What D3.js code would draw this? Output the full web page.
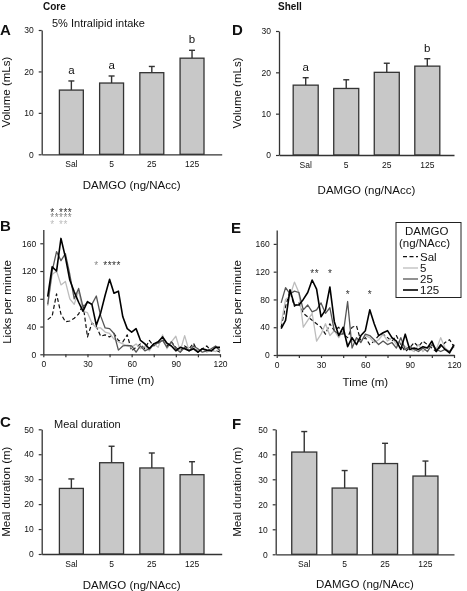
<!DOCTYPE html>
<html><head><meta charset="utf-8">
<script src="https://cdn.jsdelivr.net/npm/d3@7"></script>
<style>
body{margin:0;background:#fff;}
svg{display:block;font-family:"Liberation Sans",Arial,sans-serif;will-change:transform;}
</style></head>
<body>
<svg id="c" width="467" height="591"></svg>
<script>
// ---------- DATA ----------
const doses = ["Sal","5","25","125"];
// Panel A: Core, intake (mL)
const coreVolume = [15.5, 17.2, 19.7, 23.2];
const coreVolumeErr = [2.2, 1.7, 1.5, 1.9];
const coreVolumeSig = ["a","a","","b"];
// Panel D: Shell, intake (mL)
const shellVolume = [16.9, 16.1, 20.0, 21.5];
const shellVolumeErr = [1.8, 2.1, 2.2, 1.8];
const shellVolumeSig = ["a","","","b"];
// Panel C: Core meal duration (m)
const coreDuration = [26.3, 36.6, 34.5, 31.8];
const coreDurationErr = [3.8, 6.6, 6.0, 5.2];
// Panel F: Shell meal duration (m)
const shellDuration = [40.9, 26.5, 36.3, 31.3];
const shellDurationErr = [8.2, 7.0, 8.1, 6.0];

const volumeTicks = [0,10,20,30];
const durationTicks = [0,10,20,30,40,50];
const lickTicks = [0,40,80,120,160];
const timeTicks = [0,15,30,45,60,75,90,105,120];
const timeLabels = [0,30,60,90,120];

const times = [3,6,9,12,15,18,21,24,27,30,33,36,39,42,45,48,51,54,57,60,
               63,66,69,72,75,78,81,84,87,90,93,96,99,102,105,108,111,114,117,120];
// Panel B: Core licks per minute
const coreSal = [50,55,87,58,47,48,52,58,72,25,45,40,26,28,25,30,20,18,28,5,
                 10,15,8,20,12,16,22,12,18,10,5,12,8,16,3,8,12,5,6,3];
const core5   = [70,115,120,100,105,80,72,92,62,60,45,38,38,32,30,22,18,15,12,10,
                 15,8,12,5,15,10,28,8,18,26,5,27,5,10,4,8,3,6,4,8];
const core25  = [72,120,148,135,145,115,80,95,68,75,72,84,55,38,37,30,6,12,13,12,
                 3,12,5,8,15,16,20,10,18,8,3,10,5,12,8,3,5,8,12,5];
const core125 = [83,126,120,167,140,107,90,75,62,76,72,42,60,85,108,88,91,54,37,32,
                 37,20,15,8,15,18,25,16,12,5,10,8,5,8,3,8,6,5,10,10];
// Panel E: Shell licks per minute
const shellSal = [40,70,92,70,75,60,55,50,45,40,30,45,35,40,30,25,40,42,20,25,
                  15,20,28,30,25,20,28,15,5,10,18,12,20,15,10,5,12,18,22,12];
const shell5   = [45,80,85,105,90,40,50,60,20,30,45,28,35,25,35,15,20,22,20,28,
                  25,18,22,30,20,25,15,18,12,8,5,15,5,12,18,8,25,10,5,15];
const shell25  = [75,97,88,92,90,65,72,62,65,75,60,68,35,30,30,77,10,25,18,30,
                  28,22,15,20,15,18,10,25,8,12,8,5,10,5,15,8,5,8,5,12];
const shell125 = [38,50,94,72,72,80,90,108,95,55,65,98,48,28,40,12,25,15,28,35,
                  65,45,28,32,35,25,20,8,30,8,10,8,12,10,20,5,15,8,3,15];

// Significance markers (time points)
const sigCore125Early = [6,12,15,18];
const sigCore25Early = [6,9,12,15,18];
const sigCore5Early = [6,12,15];
const sigCore25Late = [36];
const sigCore125Late = [42,45,48,51];
const sigShellHigh = [24,27,36];
const sigShellLow = [48,63];

const legendLabels = ["Sal","5","25","125"];

// ---------- DRAWING ----------
const svg = d3.select("#c");
const defs = svg.append("defs");
svg.append("rect").attr("width",467).attr("height",591).attr("fill","#fff");
const AX = "#333", TXT = "#111";
const FONT_TICK = 8.5, FONT_TITLE = 11.5;

function text(x,y,s,opt={}){
  const t = svg.append("text").attr("x",x).attr("y",y).text(s)
    .attr("fill",opt.fill||TXT).attr("font-size",opt.size||FONT_TITLE)
    .attr("text-anchor",opt.anchor||"start");
  if(opt.bold) t.attr("font-weight","bold");
  if(opt.rotate) t.attr("transform",`rotate(-90,${x},${y})`);
  return t;
}

function styleAxis(g){
  g.selectAll("path").attr("stroke",AX).attr("stroke-width",1.3);
  g.selectAll("line").attr("stroke",AX).attr("stroke-width",1.2);
  g.selectAll("text").attr("fill",TXT).attr("font-size",FONT_TICK)
    .attr("font-family","Liberation Sans, Arial, sans-serif");
}

function barPanel(cfg){
  const x = d3.scaleBand().domain(doses).range([cfg.x0,cfg.x1])
    .paddingInner(cfg.pi).paddingOuter(cfg.po);
  const y = d3.scaleLinear().domain([0,cfg.max]).range([cfg.y0,cfg.yTop]);
  const gy = svg.append("g").attr("transform",`translate(${cfg.x0},0)`)
    .call(d3.axisLeft(y).tickValues(cfg.ticks).tickSizeInner(3).tickSizeOuter(0).tickPadding(5));
  styleAxis(gy);
  const gx = svg.append("g").attr("transform",`translate(0,${cfg.y0})`)
    .call(d3.axisBottom(x).tickSize(0).tickPadding(7));
  styleAxis(gx);
  const g = svg.append("g");
  doses.forEach((d,i)=>{
    const cx = x(d)+x.bandwidth()/2;
    const top = y(cfg.values[i]+cfg.err[i]);
    g.append("line").attr("x1",cx).attr("x2",cx).attr("y1",y(cfg.values[i])).attr("y2",top)
      .attr("stroke",AX).attr("stroke-width",1.4);
    g.append("line").attr("x1",cx-3).attr("x2",cx+3).attr("y1",top).attr("y2",top)
      .attr("stroke",AX).attr("stroke-width",1.4);
    if(cfg.sig && cfg.sig[i]){
      text(cx, top-7, cfg.sig[i], {anchor:"middle", size:11.5});
    }
  });
  g.selectAll("rect.bar").data(cfg.values).join("rect")
    .attr("x",(v,i)=>x(doses[i])).attr("width",x.bandwidth())
    .attr("y",v=>y(v)).attr("height",v=>cfg.y0-y(v))
    .attr("fill","#c8c8c8").attr("stroke","#333").attr("stroke-width",1.3);
  gx.raise();
  text((cfg.x0+cfg.x1)/2, cfg.titleY, "DAMGO (ng/NAcc)", {anchor:"middle"});
  text(cfg.ylabX, (cfg.y0+cfg.yTop)/2, cfg.ylab, {anchor:"middle", rotate:true});
}

// A group of significance asterisks drawn as ONE text element: each glyph is
// positioned at its time point (x list / y list); row colours come from a
// hard-stop gradient (vertical for stacked rows, horizontal for a single row).
let gradId = 0;
function starGroup(x, rows, dir){
  const glyphs = [];
  rows.forEach(r=>r.t.forEach(t=>glyphs.push({x:x(t), y:r.y, c:r.c})));
  const id = "sg"+(gradId++);
  const gr = defs.append("linearGradient").attr("id",id).attr("gradientUnits","userSpaceOnUse");
  const segs = dir==="v" ? rows.map(r=>({p:r.y-4,c:r.c}))
                         : rows.map(r=>({p:x(r.t[0]),c:r.c}));
  const lo = segs[0].p-10, hi = segs[segs.length-1].p+10;
  if(dir==="v") gr.attr("x1",0).attr("x2",0).attr("y1",lo).attr("y2",hi);
  else gr.attr("y1",0).attr("y2",0).attr("x1",lo).attr("x2",hi);
  segs.forEach((s,i)=>{
    const start = i===0 ? 0 : ((segs[i-1].p+s.p)/2 - lo)/(hi-lo);
    const end = i===segs.length-1 ? 1 : ((segs[i+1].p+s.p)/2 - lo)/(hi-lo);
    gr.append("stop").attr("offset",start).attr("stop-color",s.c);
    gr.append("stop").attr("offset",end).attr("stop-color",s.c);
  });
  svg.append("text").attr("font-size",10).attr("text-anchor","middle")
    .attr("x", glyphs.map(g=>g.x.toFixed(1)).join(" "))
    .attr("y", glyphs.map(g=>g.y).join(" "))
    .attr("fill",`url(#${id})`)
    .text(glyphs.map(()=>"*").join(""));
}

function linePanel(cfg){
  const x = d3.scaleLinear().domain([0,120]).range([cfg.x0,cfg.x1]);
  const y = d3.scaleLinear().domain([0,180]).range([cfg.y0,cfg.yTop]);
  const gy = svg.append("g").attr("transform",`translate(${cfg.x0},0)`)
    .call(d3.axisLeft(y).tickValues(lickTicks).tickSizeInner(3).tickSizeOuter(0).tickPadding(4));
  styleAxis(gy);
  const gx = svg.append("g").attr("transform",`translate(0,${cfg.y0})`)
    .call(d3.axisBottom(x).tickValues(timeTicks).tickSizeInner(3).tickSizeOuter(0).tickPadding(4)
      .tickFormat(d=>timeLabels.includes(d)?d:""));
  styleAxis(gx);
  const line = d3.line().x((v,i)=>x(times[i])).y(v=>y(v));
  const styles = [
    {c:"#111", w:1.2, dash:"4,2.5"},
    {c:"#bdbdbd", w:1.3, dash:null},
    {c:"#555", w:1.3, dash:null},
    {c:"#000", w:1.6, dash:null}
  ];
  cfg.series.forEach((s,k)=>{
    const p = svg.append("path").attr("d",line(s)).attr("fill","none")
      .attr("stroke",styles[k].c).attr("stroke-width",styles[k].w)
      .attr("stroke-linejoin","round");
    if(styles[k].dash) p.attr("stroke-dasharray",styles[k].dash);
  });
  cfg.starGroups.forEach(gp=>starGroup(x, gp.rows, gp.dir));
  text((cfg.x0+cfg.x1)/2, cfg.titleY, "Time (m)", {anchor:"middle"});
  text(cfg.ylabX, 302, "Licks per minute", {anchor:"middle", rotate:true});
  return {x,y,styles};
}

// Headers
text(43, 9.5, "Core", {bold:true, size:10});
text(278, 10, "Shell", {bold:true, size:10});
text(52, 26.5, "5% Intralipid intake", {size:11});
text(0, 35, "A", {bold:true, size:15});
text(232, 35, "D", {bold:true, size:15});
text(0, 231, "B", {bold:true, size:15});
text(231, 233, "E", {bold:true, size:15});
text(0, 427, "C", {bold:true, size:15});
text(232, 429, "F", {bold:true, size:15});
text(54, 427.5, "Meal duration", {size:11});

barPanel({x0:41.7,x1:221.7,pi:0.405,po:0.44,y0:154.3,yTop:30,max:30,ticks:volumeTicks,
  values:coreVolume,err:coreVolumeErr,sig:coreVolumeSig,titleY:189,ylabX:10.5,ylab:"Volume (mLs)"});
barPanel({x0:279,x1:454,pi:0.383,po:0.35,y0:155,yTop:31,max:30,ticks:volumeTicks,
  values:shellVolume,err:shellVolumeErr,sig:shellVolumeSig,titleY:194,ylabX:241,ylab:"Volume (mLs)"});
barPanel({x0:41.7,x1:221.7,pi:0.405,po:0.44,y0:554,yTop:429.3,max:50,ticks:durationTicks,
  values:coreDuration,err:coreDurationErr,titleY:589,ylabX:10.5,ylab:"Meal duration (m)"});
barPanel({x0:275.7,x1:454,pi:0.381,po:0.397,y0:554.3,yTop:429.3,max:50,ticks:durationTicks,
  values:shellDuration,err:shellDurationErr,titleY:587.5,ylabX:241,ylab:"Meal duration (m)"});

linePanel({x0:43.3,x1:220,y0:354.3,yTop:229.4,titleY:384,ylabX:11,
  series:[coreSal,core5,core25,core125],
  starGroups:[
    {dir:"v", rows:[
      {t:sigCore125Early,y:215.5,c:"#333"},
      {t:sigCore25Early,y:221.2,c:"#888"},
      {t:sigCore5Early,y:227.8,c:"#bbb"}
    ]},
    {dir:"h", rows:[
      {t:sigCore25Late,y:268.8,c:"#888"},
      {t:sigCore125Late,y:268.8,c:"#333"}
    ]}
  ]});
const E = linePanel({x0:276.7,x1:454,y0:355,yTop:230,titleY:385.5,ylabX:241,
  series:[shellSal,shell5,shell25,shell125],
  starGroups:[
    {dir:"v", rows:[
      {t:sigShellHigh,y:276.5,c:"#333"},
      {t:sigShellLow,y:297.5,c:"#333"}
    ]}
  ]});

// Legend
const lg = svg.append("g");
lg.append("rect").attr("x",396).attr("y",222.5).attr("width",65).attr("height",75)
  .attr("fill","#fff").attr("stroke","#222").attr("stroke-width",1);
text(405, 235, "DAMGO", {size:11.5});
text(399, 246.5, "(ng/NAcc)", {size:11.5});
legendLabels.forEach((l,k)=>{
  const yy = [256.7,268,279,290][k];
  const st = E.styles[k];
  const ln = lg.append("line").attr("x1",403).attr("x2",418).attr("y1",yy).attr("y2",yy)
    .attr("stroke",st.c).attr("stroke-width",st.w);
  if(st.dash) ln.attr("stroke-dasharray",st.dash);
  text(420, yy+4, l, {size:11.5});
});
</script>
</body></html>
